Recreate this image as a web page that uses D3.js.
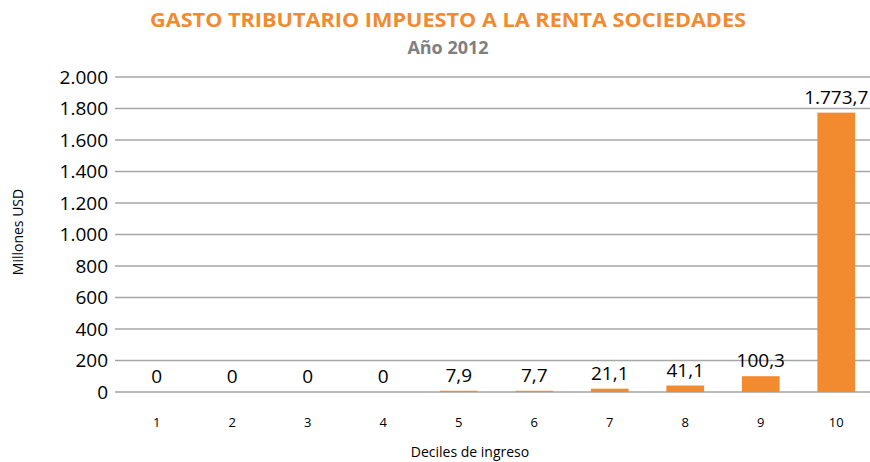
<!DOCTYPE html>
<html>
<head>
<meta charset="utf-8">
<script src="https://cdn.jsdelivr.net/npm/d3@7"></script>
<style>
  body { margin: 0; background: #fff; }
  svg { display: block; font-family: "Open Sans", "Liberation Sans", sans-serif; }
</style>
</head>
<body>
<div id="chart"></div>
<script>
(function(){
const deciles = ["1", "2", "3", "4", "5", "6", "7", "8", "9", "10"];
const values = [0, 0, 0, 0, 7.9, 7.7, 21.1, 41.1, 100.3, 1773.7];
const valueLabels = ["0", "0", "0", "0", "7,9", "7,7", "21,1", "41,1", "100,3", "1.773,7"];
const yTicks = [0, 200, 400, 600, 800, 1000, 1200, 1400, 1600, 1800, 2000];

const width = 870;
const height = 462;
const margin = { top: 77, right: 0, bottom: 70, left: 119 };

const svg = d3.select("#chart")
  .append("svg")
  .attr("width", width)
  .attr("height", height);

const x = d3.scaleBand()
  .domain(deciles)
  .range([margin.left, 874])
  .paddingInner(0.5)
  .paddingOuter(0.25);

const y = d3.scaleLinear()
  .domain([0, 2000])
  .range([height - margin.bottom, margin.top]);

// gridlines
svg.append("g")
  .selectAll("line")
  .data(yTicks)
  .enter().append("line")
  .attr("x1", 115)
  .attr("x2", width)
  .attr("y1", d => y(d))
  .attr("y2", d => y(d))
  .attr("stroke", "#a6a6a6")
  .attr("stroke-width", 1.5);

// y axis labels
const fmt = d => d3.format(",")(d).replace(/,/g, ".");
svg.append("g")
  .selectAll("text")
  .data(yTicks)
  .enter().append("text")
  .attr("x", 108)
  .attr("y", d => y(d))
  .attr("dy", "0.35em")
  .attr("text-anchor", "end")
  .attr("font-size", 19)
  .attr("fill", "#000")
  .text(d => fmt(d));

// bars
svg.append("g")
  .selectAll("rect")
  .data(values)
  .enter().append("rect")
  .attr("x", (d, i) => x(deciles[i]))
  .attr("y", d => y(d))
  .attr("width", x.bandwidth())
  .attr("height", d => y(0) - y(d))
  .attr("fill", "#f28a30");

// value labels
svg.append("g")
  .selectAll("text")
  .data(values)
  .enter().append("text")
  .attr("x", (d, i) => x(deciles[i]) + x.bandwidth() / 2)
  .attr("y", d => y(d) - 9)
  .attr("text-anchor", "middle")
  .attr("font-size", 19)
  .attr("fill", "#000")
  .text((d, i) => valueLabels[i]);

// x tick labels
svg.append("g")
  .selectAll("text")
  .data(deciles)
  .enter().append("text")
  .attr("x", d => x(d) + x.bandwidth() / 2)
  .attr("y", 427)
  .attr("text-anchor", "middle")
  .attr("font-size", 13)
  .attr("fill", "#000")
  .text(d => d);

// axis titles
svg.append("text")
  .attr("x", 470)
  .attr("y", 457)
  .attr("text-anchor", "middle")
  .attr("font-size", 14)
  .attr("fill", "#000")
  .text("Deciles de ingreso");

svg.append("text")
  .attr("transform", "translate(23,232) rotate(-90)")
  .attr("text-anchor", "middle")
  .attr("font-size", 14)
  .attr("fill", "#000")
  .text("Millones USD");

// titles
svg.append("text")
  .attr("x", 448)
  .attr("y", 27)
  .attr("text-anchor", "middle")
  .attr("font-size", 19)
  .attr("font-weight", "bold")
  .attr("fill", "#f28a30")
  .attr("textLength", 596)
  .attr("lengthAdjust", "spacingAndGlyphs")
  .text("GASTO TRIBUTARIO IMPUESTO A LA RENTA SOCIEDADES");

svg.append("text")
  .attr("x", 448)
  .attr("y", 54)
  .attr("text-anchor", "middle")
  .attr("font-size", 18)
  .attr("font-weight", "bold")
  .attr("fill", "#7f7f7f")
  .text("Año 2012");
})();
</script>
</body>
</html>
